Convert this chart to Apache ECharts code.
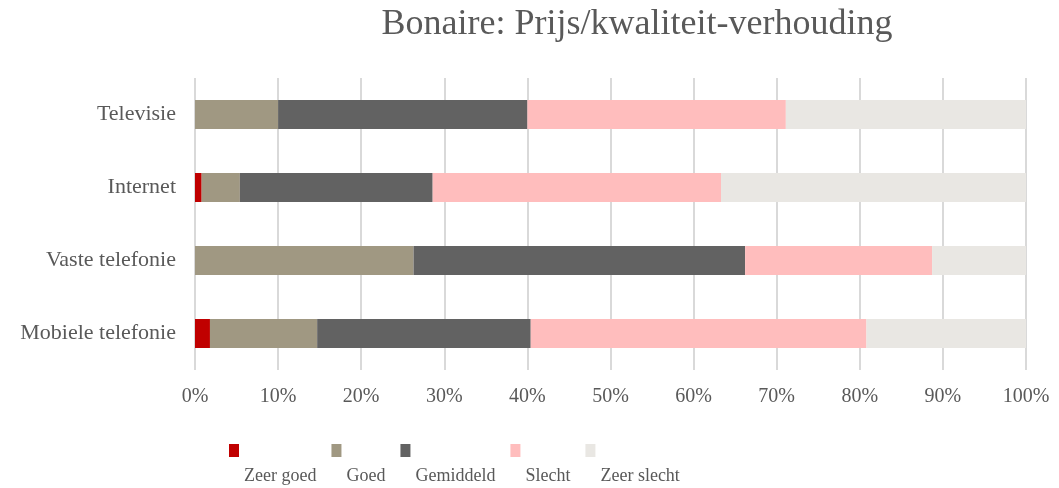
<!DOCTYPE html>
<html>
<head>
<meta charset="utf-8">
<script src="https://cdn.jsdelivr.net/npm/echarts@6/dist/echarts.min.js"></script>
<style>
  html, body { margin: 0; padding: 0; background: #fff; }
  #chart { width: 1059px; height: 488px; }
</style>
</head>
<body>
<div id="chart"></div>
<script>
// categories bottom -> top
const categories = ['Mobiele telefonie', 'Vaste telefonie', 'Internet', 'Televisie'];
const zeerGoed = [1.8, 0, 0.8, 0];
const goed = [12.9, 26.3, 4.6, 10.0];
const gemiddeld = [25.7, 39.9, 23.2, 30.0];
const slecht = [40.4, 22.5, 34.7, 31.1];
const zeerSlecht = [19.2, 11.3, 36.7, 28.9];

const font = 'Liberation Serif';
const textColor = '#595959';

function bar(name, data, color) {
  return {
    name: name,
    type: 'bar',
    stack: 'total',
    barWidth: 29,
    data: data,
    itemStyle: { color: color },
  };
}

let option = {
  animation: false,
  textStyle: { fontFamily: font },
  title: {
    text: 'Bonaire: Prijs/kwaliteit-verhouding',
    left: 632,
    textAlign: 'center',
    top: 2,
    textStyle: {
      fontFamily: font,
      fontSize: 36,
      fontWeight: 'normal',
      color: textColor,
    },
  },
  grid: {
    left: 195,
    right: 33,
    top: 78,
    height: 292,
  },
  xAxis: {
    type: 'value',
    min: 0,
    max: 100,
    interval: 10,
    axisLine: { show: false },
    axisTick: { show: false },
    axisLabel: {
      formatter: '{value}%',
      margin: 17,
      fontFamily: font,
      fontSize: 20,
      color: textColor,
    },
    splitLine: {
      lineStyle: { color: '#D9D9D9', width: 2 },
    },
  },
  yAxis: {
    type: 'category',
    data: categories,
    axisLine: { show: false },
    axisTick: { show: false },
    axisLabel: {
      margin: 19,
      fontFamily: font,
      fontSize: 22,
      color: textColor,
    },
  },
  legend: {
    left: 224,
    top: 439,
    itemWidth: 10,
    itemHeight: 13,
    itemGap: 15,
    icon: 'rect',
    formatter: name => '{t|' + name + '}',
    textStyle: {
      rich: {
        t: {
          fontFamily: font,
          fontSize: 18,
          color: textColor,
          padding: [52, 0, 0, 0],
        },
      },
    },
    data: ['Zeer goed', 'Goed', 'Gemiddeld', 'Slecht', 'Zeer slecht'],
  },
  series: [
    bar('Zeer goed', zeerGoed, '#C00000'),
    bar('Goed', goed, '#A09882'),
    bar('Gemiddeld', gemiddeld, '#626262'),
    bar('Slecht', slecht, '#FFBDBD'),
    bar('Zeer slecht', zeerSlecht, '#E9E7E3'),
  ],
};

let chart = echarts.init(document.getElementById('chart'));
chart.setOption(option);
</script>
</body>
</html>
